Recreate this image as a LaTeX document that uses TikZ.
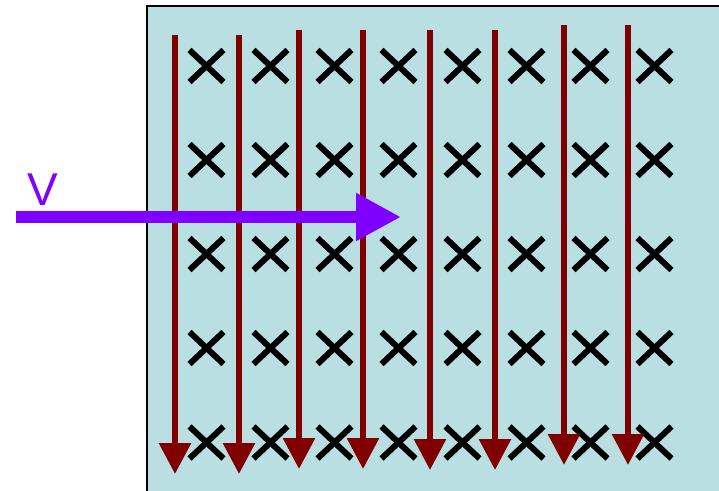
\documentclass[tikz,border=0pt]{standalone}
\usepackage{fontspec}
\setmainfont{Liberation Sans}
\usetikzlibrary{arrows.meta}
\definecolor{bgblue}{RGB}{186,223,227}
\definecolor{fieldred}{RGB}{128,0,0}
\definecolor{vpurple}{RGB}{128,0,255}
\tikzset{
  fieldline/.style={draw=fieldred, line width=6pt, -{Triangle[length=31pt,width=31pt]}, fieldred},
  crossmark/.style={draw=black, line width=6pt},
  velarrow/.style={draw=vpurple, line width=12pt, -{Triangle[length=45pt,width=45pt]}, vpurple},
}
\begin{document}
\begin{tikzpicture}[x=1pt,y=-1pt]
\useasboundingbox (0,0) rectangle (719,490);
% region
\path[fill=bgblue, draw=black, line width=2pt] (147,6) -- (725,6) -- (725,496) -- (147,496) -- cycle;
% crosses
\foreach \cx in {206.5,270.5,334.5,398.5,462.5,526.5,590.5,654.5}{
  \foreach \cy in {66,160,254,348,442.5}{
    \draw[crossmark] (\cx-17,\cy-16) -- (\cx+17,\cy+16);
    \draw[crossmark] (\cx-17,\cy+16) -- (\cx+17,\cy-16);
  }
}
% field lines
\coordinate (f1s) at (175,35);  \coordinate (f1e) at (175,474);
\coordinate (f2s) at (239,35);  \coordinate (f2e) at (239,474);
\coordinate (f3s) at (299,30);  \coordinate (f3e) at (299,469);
\coordinate (f4s) at (363,30);  \coordinate (f4e) at (363,469);
\coordinate (f5s) at (430,30);  \coordinate (f5e) at (430,470);
\coordinate (f6s) at (495,30);  \coordinate (f6e) at (495,470);
\coordinate (f7s) at (564,25);  \coordinate (f7e) at (564,465);
\coordinate (f8s) at (628,25);  \coordinate (f8e) at (628,465);
\foreach \i in {1,...,8}{
  \draw[fieldline] (f\i s) -- (f\i e);
}
% velocity
\coordinate (vs) at (16,217);
\coordinate (ve) at (401,217);
\draw[velarrow] (vs) -- (ve);
\node[text=vpurple, font=\fontsize{46}{46}\selectfont, inner sep=0pt, anchor=base] (vlabel) at (42.5,205) {V};
\end{tikzpicture}
\end{document}
